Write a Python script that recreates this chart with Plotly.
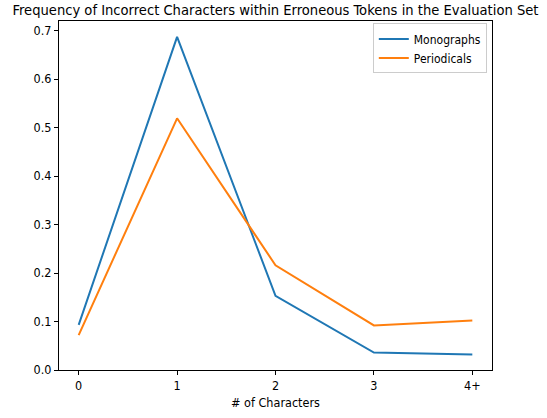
import plotly.graph_objects as go

categories = ["0", "1", "2", "3", "4+"]
monographs = [0.093, 0.687, 0.153, 0.036, 0.032]
periodicals = [0.072, 0.519, 0.216, 0.092, 0.102]
y_ticks = [0.0, 0.1, 0.2, 0.3, 0.4, 0.5, 0.6, 0.7]

FONT = "DejaVu Sans Condensed, DejaVu Sans, sans-serif"

fig = go.Figure()
fig.add_trace(go.Scatter(x=categories, y=monographs, mode="lines", name="Monographs",
                         line=dict(color="#1f77b4", width=2)))
fig.add_trace(go.Scatter(x=categories, y=periodicals, mode="lines", name="Periodicals",
                         line=dict(color="#ff7f0e", width=2)))

fig.update_layout(
    width=547, height=418,
    margin=dict(l=59, r=55, t=21, b=48, autoexpand=False),
    paper_bgcolor="white", plot_bgcolor="white",
    font=dict(family=FONT, size=12, color="black"),
    title=dict(text="Frequency of Incorrect Characters within Erroneous Tokens in the Evaluation Set",
               x=(59 + 492) / 2 / 547, xanchor="center", y=1 - 9.5 / 418, yanchor="middle",
               font=dict(family=FONT, size=14.6, color="black"), automargin=False),
    showlegend=True,
    legend=dict(x=0.988, y=0.993, xanchor="right", yanchor="top",
                bordercolor="#cccccc", borderwidth=1, bgcolor="white",
                font=dict(family=FONT, size=12), tracegroupgap=2, itemwidth=30),
)
fig.update_xaxes(type="category", range=[-0.2, 4.2], showgrid=False, zeroline=False,
                 showline=True, linecolor="black", linewidth=1, mirror=True,
                 ticks="outside", ticklen=4, tickcolor="black", automargin=False,
                 tickfont=dict(size=12.5),
                 title=dict(text="# of Characters", font=dict(family=FONT, size=12.5), standoff=6))
fig.update_yaxes(range=[0, 0.7196], tickvals=y_ticks, ticktext=[f"{v:.1f}" for v in y_ticks],
                 showgrid=False, zeroline=False, automargin=False,
                 tickfont=dict(size=12.5),
                 showline=True, linecolor="black", linewidth=1, mirror=True,
                 ticks="outside", ticklen=4, tickcolor="black")

fig.write_html("out.html", config={"displayModeBar": False},
               post_script="document.body.style.margin='0';")
